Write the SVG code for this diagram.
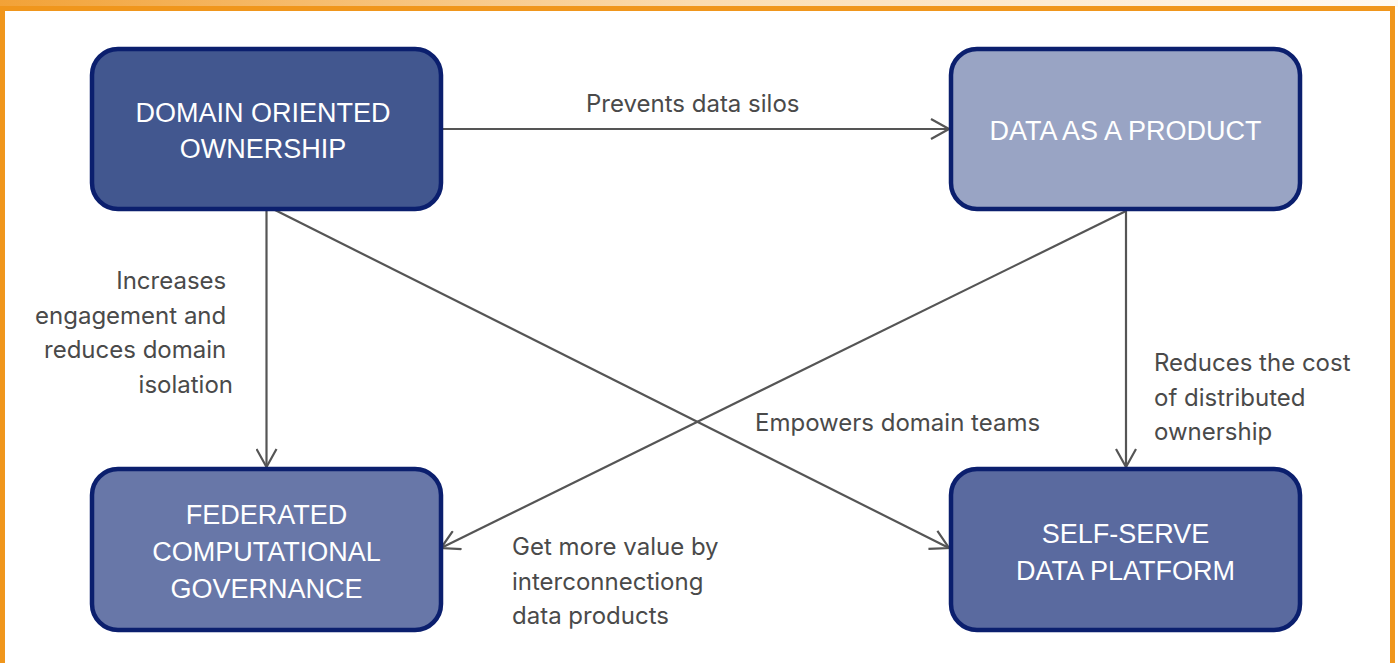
<svg xmlns="http://www.w3.org/2000/svg" width="1398" height="663" viewBox="0 0 1398 663">
  <defs>
    <linearGradient id="topBand" x1="0" y1="0" x2="1" y2="0">
      <stop offset="0" stop-color="#f2a237"/>
      <stop offset="0.5" stop-color="#fbdcb0"/>
      <stop offset="1" stop-color="#fffaf3"/>
    </linearGradient>
    <marker id="arrow" viewBox="0 0 20 22" refX="19" refY="11" markerWidth="20" markerHeight="22" markerUnits="userSpaceOnUse" orient="auto">
      <path d="M1,1 L19,11 L1,21" fill="none" stroke="#555555" stroke-width="2.2"/>
    </marker>
  </defs>
  <style>
    .node rect { stroke: #0b1f6e; stroke-width: 4.5; }
    .node text { font-family: "Liberation Sans", Arial, sans-serif; font-size: 27px; fill: #ffffff; text-anchor: middle; }
    .edges line { stroke: #555555; stroke-width: 2.2; fill: none; }
    .label { font-family: Inter, "Liberation Sans", sans-serif; font-size: 24px; fill: #4a4a4a; }
  </style>

  <!-- page frame -->
  <rect x="0" y="0" width="1398" height="663" fill="#ffffff"/>
  <rect x="0" y="0" width="1398" height="7" fill="url(#topBand)"/>
  <path d="M2.5,663 L2.5,8.5 L1392.5,8.5 L1392.5,663" fill="none" stroke="#f0961c" stroke-width="5"/>

  <!-- connectors -->
  <g id="connectors" class="edges">
    <line x1="443" y1="129" x2="949" y2="129" marker-end="url(#arrow)"/>
    <line x1="266.5" y1="211" x2="266.5" y2="467" marker-end="url(#arrow)"/>
    <line x1="273" y1="209" x2="949" y2="548" marker-end="url(#arrow)"/>
    <line x1="1126" y1="211" x2="441" y2="548" marker-end="url(#arrow)"/>
    <line x1="1126" y1="211" x2="1126" y2="467" marker-end="url(#arrow)"/>
  </g>

  <!-- connector labels -->
  <g id="labels">
    <text class="label" x="586" y="112">Prevents data silos</text>
    <text class="label" x="233" text-anchor="end">
      <tspan x="233" y="289">Increases</tspan>
      <tspan x="233" y="323.5">engagement and</tspan>
      <tspan x="233" y="358">reduces domain</tspan>
      <tspan x="233" y="392.5">isolation</tspan>
    </text>
    <text class="label" x="1154">
      <tspan x="1154" y="371">Reduces the cost</tspan>
      <tspan x="1154" y="405.5">of distributed</tspan>
      <tspan x="1154" y="440">ownership</tspan>
    </text>
    <text class="label" x="755" y="431">Empowers domain teams</text>
    <text class="label" x="512">
      <tspan x="512" y="555">Get more value by</tspan>
      <tspan x="512" y="589.5">interconnectiong</tspan>
      <tspan x="512" y="624">data products</tspan>
    </text>
  </g>

  <g id="domain-ownership" class="node">
    <rect x="92" y="49" width="349" height="160" rx="26" fill="#42578f"/>
    <text x="263" y="122">DOMAIN ORIENTED</text>
    <text x="263" y="158">OWNERSHIP</text>
  </g>

  <g id="data-product" class="node">
    <rect x="951" y="49" width="349" height="160" rx="26" fill="#99a4c4"/>
    <text x="1125.5" y="140">DATA AS A PRODUCT</text>
  </g>

  <g id="federated-governance" class="node">
    <rect x="92" y="469" width="349" height="161" rx="26" fill="#6877a8"/>
    <text x="266.5" y="524">FEDERATED</text>
    <text x="266.5" y="561">COMPUTATIONAL</text>
    <text x="266.5" y="598">GOVERNANCE</text>
  </g>

  <g id="self-serve-platform" class="node">
    <rect x="951" y="469" width="349" height="161" rx="26" fill="#5a6a9f"/>
    <text x="1125.5" y="543">SELF-SERVE</text>
    <text x="1125.5" y="580">DATA PLATFORM</text>
  </g>
</svg>
